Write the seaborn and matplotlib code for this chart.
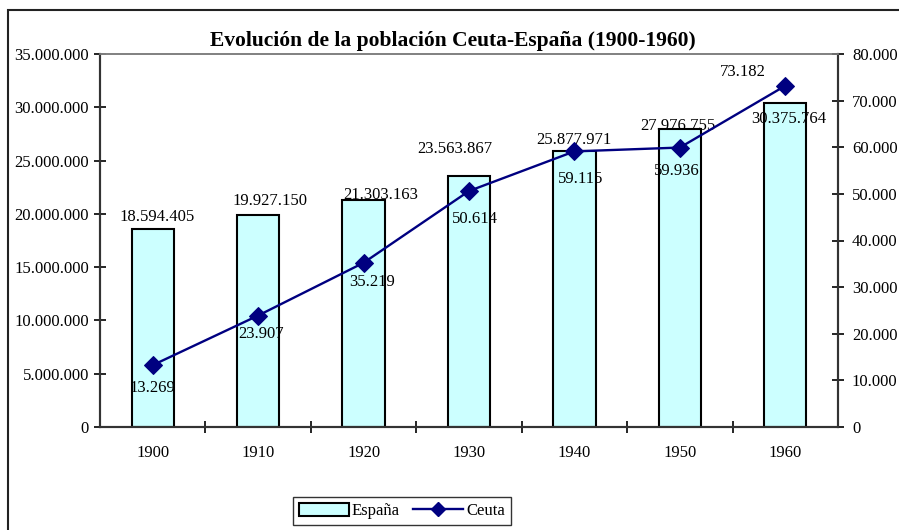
import numpy as np
import pandas as pd
import seaborn as sns
import matplotlib.pyplot as plt
from matplotlib.ticker import FuncFormatter, FixedLocator
from matplotlib.patches import Rectangle
from matplotlib.lines import Line2D
from matplotlib.patches import Patch

# data
years = ['1900', '1910', '1920', '1930', '1940', '1950', '1960']
espana = [18594405, 19927150, 21303163, 23563867, 25877971, 27976755, 30375764]
ceuta = [13269, 23907, 35219, 50614, 59115, 59936, 73182]

# label offsets (pixels) as they sit in the original
esp_off = [(4, 12), (12, 14), (17, 5), (-14, 27), (-1, 11), (-2, 3), (3, -16)]
ceu_off = [(0, -23), (3, -18), (8, -19), (6, -28), (6, -28), (-3, -23), (-42, 14)]

plt.rcParams['font.family'] = ['Liberation Serif', 'DejaVu Serif']
plt.rcParams['font.size'] = 12

def dots(v, pos=None):
    return f"{int(round(v)):,}".replace(",", ".")

df = pd.DataFrame({'year': years, 'España': espana, 'Ceuta': ceuta})

fig = plt.figure(figsize=(8.99, 5.30), dpi=100)
ax = fig.add_axes([100/899, 1 - 427/530, 738/899, 373/530])

sns.barplot(data=df, x='year', y='España', ax=ax, color='#CCFFFF', saturation=1,
            edgecolor='black', linewidth=1.5, width=0.4)
ax.set_xlim(-0.5, len(years) - 0.5)
ax.set_ylim(0, 35000000)
ax.set_yticks(np.arange(0, 35000001, 5000000))
ax.yaxis.set_major_formatter(FuncFormatter(dots))
ax.set_xlabel('')
ax.set_ylabel('')

ax2 = ax.twinx()
sns.lineplot(x=np.arange(len(years)), y=df['Ceuta'], ax=ax2, color='#000080',
             linewidth=1.7, marker='D', markersize=9, markeredgecolor='#000080')
ax2.set_ylim(0, 80000)
ax2.set_yticks(np.arange(0, 80001, 10000))
ax2.yaxis.set_major_formatter(FuncFormatter(dots))
ax2.set_ylabel('')
ax2.set_xlim(-0.5, len(years) - 0.5)

# spines
for a in (ax, ax2):
    for s in a.spines.values():
        s.set_linewidth(1.5)
        s.set_color('#333333')
    a.spines['top'].set_color('#808080')
    a.spines['top'].set_linewidth(1.2)

ax.tick_params(axis='y', direction='inout', length=8, width=1.2, pad=4, labelsize=12)
ax2.tick_params(axis='y', direction='inout', length=8, width=1.2, pad=6, labelsize=12)
ax.tick_params(axis='x', which='major', length=0, pad=13, labelsize=12)
ax.xaxis.set_minor_locator(FixedLocator(np.arange(0.5, len(years) - 1, 1)))
ax.tick_params(axis='x', which='minor', direction='inout', length=8, width=1.2)

for i, v in enumerate(espana):
    dx, dy = esp_off[i]
    ax.annotate(dots(v), (i, v), xytext=(dx * 0.72, dy * 0.72), textcoords='offset points',
                ha='center', va='center', fontsize=12)
for i, v in enumerate(ceuta):
    dx, dy = ceu_off[i]
    ax2.annotate(dots(v), (i, v), xytext=(dx * 0.72, dy * 0.72), textcoords='offset points',
                 ha='center', va='center', fontsize=12)

fig.text(453/899, 1 - 41/530, 'Evolución de la población Ceuta-España (1900-1960)',
         ha='center', va='center', fontsize=15.5, fontweight='bold')

handles = [Patch(facecolor='#CCFFFF', edgecolor='black', linewidth=1.5),
           Line2D([], [], color='#000080', linewidth=1.7, marker='D', markersize=7)]
leg = fig.legend(handles, ['España', 'Ceuta'], loc='center', bbox_to_anchor=(402/899, 1 - 511/530),
                 ncol=2, frameon=True, fancybox=False, edgecolor='black', handlelength=3.0,
                 handleheight=0.8, handletextpad=0.2, columnspacing=0.8, borderpad=0.35,
                 borderaxespad=0, fontsize=12)
leg.get_frame().set_linewidth(1.0)

# outer chart frame, cut at the right and bottom edges like the reference
fig.patches.append(Rectangle((8/899, -0.1), 2, 1 - 10/530 + 0.1, transform=fig.transFigure,
                             fill=False, edgecolor='#222222', linewidth=1.5))

fig.savefig('out.png', dpi=100)
